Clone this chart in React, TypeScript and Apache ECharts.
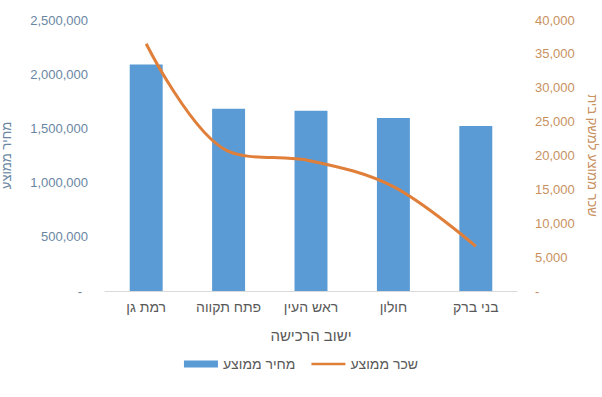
import React, { useEffect, useRef } from "react";
import * as echarts from "echarts";

const categories = ["רמת גן", "פתח תקווה", "ראש העין", "חולון", "בני ברק"];
const avgPrice = [2090000, 1682000, 1663000, 1596000, 1522000];
const avgSalary = [36500, 20600, 19200, 15400, 6600];
const seriesNames = ["מחיר ממוצע", "שכר ממוצע"];
const axisTitles = { x: "ישוב הרכישה", left: "מחיר ממוצע", right: "שכר ממוצע למשק בית" };

const FONT = "'Liberation Sans', 'DejaVu Sans', sans-serif";

function fmt(v: number) {
  return v.toLocaleString("en-US");
}

export default function App() {
  const ref = useRef<HTMLDivElement>(null);
  useEffect(() => {
    document.body.style.margin = "0";
    const chart = echarts.init(ref.current!, null, { renderer: "svg" });
    chart.setOption({
      animation: false,
      backgroundColor: "#ffffff",
      textStyle: { fontFamily: FONT },
      grid: {
        left: 105,
        right: 85,
        top: 20,
        bottom: 106,
        containLabel: false,
        outerBoundsMode: "none",
      },
      legend: {
        bottom: 21,
        left: "center",
        itemWidth: 34,
        itemHeight: 7,
        itemGap: 16,
        textStyle: { color: "#595959", fontSize: 14, fontFamily: FONT },
        data: [
          { name: seriesNames[0], icon: "rect" },
          { name: seriesNames[1], icon: "path://M0,0 H40 V3 H0 Z" },
        ],
      },
      xAxis: {
        type: "category",
        data: categories,
        axisLine: { lineStyle: { color: "#d9d9d9", width: 1 } },
        axisTick: { show: false },
        axisLabel: { color: "#595959", fontSize: 14, margin: 9, interval: 0, fontFamily: FONT },
        name: axisTitles.x,
        nameLocation: "middle",
        nameGap: 37,
        nameTextStyle: { color: "#595959", fontSize: 15, fontFamily: FONT },
      },
      yAxis: [
        {
          type: "value",
          min: 0,
          max: 2500000,
          interval: 500000,
          splitLine: { show: false },
          axisLine: { show: false },
          axisTick: { show: false },
          axisLabel: {
            color: "#6a86a3",
            fontSize: 13,
            margin: 17,
            fontFamily: FONT,
            formatter: (v: number) => (v === 0 ? "{z|-}" : fmt(v)),
            rich: { z: { padding: [0, 6, 0, 0], color: "#6a86a3", fontSize: 13 } },
          },
          name: axisTitles.left,
          nameLocation: "middle",
          nameGap: 92,
          nameTextStyle: { color: "#6a86a3", fontSize: 13, fontFamily: FONT },
        },
        {
          type: "value",
          min: 0,
          max: 40000,
          interval: 5000,
          position: "right",
          splitLine: { show: false },
          axisLine: { show: false },
          axisTick: { show: false },
          axisLabel: {
            color: "#c8915f",
            fontSize: 13,
            margin: 18,
            fontFamily: FONT,
            formatter: (v: number) => (v === 0 ? "-" : fmt(v)),
          },
          name: axisTitles.right,
          nameLocation: "middle",
          nameGap: 69,
          nameRotate: -90,
          nameTextStyle: { color: "#c8915f", fontSize: 13, fontFamily: FONT },
        },
      ],
      series: [
        {
          name: seriesNames[0],
          type: "bar",
          data: avgPrice,
          barWidth: "40%",
          itemStyle: { color: "#5b9bd5" },
          yAxisIndex: 0,
        },
        {
          name: seriesNames[1],
          type: "line",
          data: avgSalary,
          yAxisIndex: 1,
          smooth: 0.35,
          symbol: "none",
          lineStyle: { color: "#e07f3a", width: 3 },
          itemStyle: { color: "#e07f3a" },
        },
      ],
    });
    return () => chart.dispose();
  }, []);
  return <div ref={ref} style={{ width: 602, height: 397 }} />;
}
